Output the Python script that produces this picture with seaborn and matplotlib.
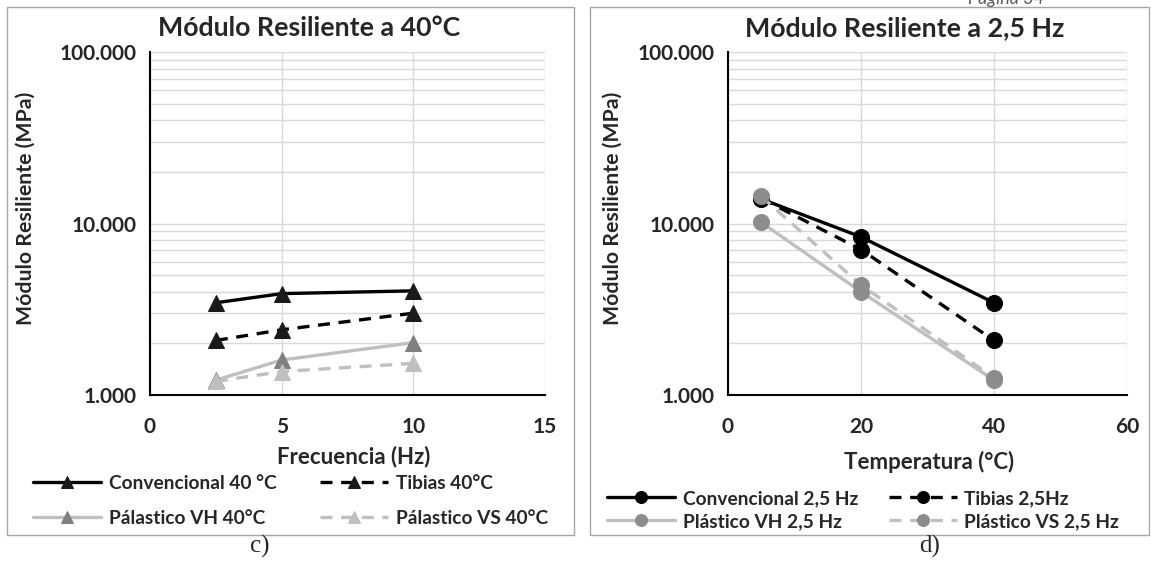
import matplotlib
matplotlib.use("Agg")
import matplotlib.pyplot as plt
import seaborn as sns
import pandas as pd
from matplotlib.patches import Rectangle
from matplotlib.ticker import FixedLocator, FuncFormatter, LogLocator, MultipleLocator, NullFormatter

# ---- data -------------------------------------------------------------
freq_hz = [2.5, 5, 10]
conv_40c = [3450, 3900, 4050]
tibias_40c = [2080, 2400, 3000]
plast_vh_40c = [1220, 1600, 2020]
plast_vs_40c = [1200, 1370, 1530]
labels_40c = ["Convencional 40 °C", "Tibias 40°C", "Pálastico VH 40°C", "Pálastico VS 40°C"]

temp_c = [5, 20, 40]
conv_25hz = [13900, 8350, 3450]
tibias_25hz = [14000, 7050, 2080]
plast_vh_25hz = [10150, 4000, 1220]
plast_vs_25hz = [14400, 4380, 1260]
labels_25hz = ["Convencional 2,5 Hz", "Tibias 2,5Hz", "Plástico VH 2,5 Hz", "Plástico VS 2,5 Hz"]

y_ticks = [1000, 10000, 100000]

# ---- style ------------------------------------------------------------
sns.set_style("white")
plt.rcParams["font.family"] = ["Lato", "DejaVu Sans"]
plt.rcParams["font.weight"] = "bold"

W, H = 1151, 574
fig = plt.figure(figsize=(W / 100, H / 100), dpi=100)


def fx(px):
    return px / W


def fy(py):
    return 1 - py / H


BLACK = "#000000"
LIGHT = "#bfbfbf"
MID = "#8c8c8c"
GRID = "#d9d9d9"
DASH = (0, (3.6, 2.6))

# panel frames
for x0, x1 in [(7, 574), (590, 1149)]:
    fig.patches.append(Rectangle((fx(x0), fy(535)), fx(x1 - x0), (535 - 7) / H,
                                 transform=fig.transFigure, fill=False,
                                 edgecolor="#a6a6a6", linewidth=1.0))

ax1 = fig.add_axes([fx(150), fy(395), fx(395), (395 - 52) / H])
ax2 = fig.add_axes([fx(728), fy(395), fx(399), (395 - 52) / H])


def thousands(v, _):
    return f"{int(round(v)):,}".replace(",", ".")


def style_axes(ax, xmax, xmajor, xminor):
    ax.set_yscale("log")
    ax.set_ylim(1000, 100000)
    ax.set_xlim(0, xmax)
    ax.yaxis.set_major_locator(FixedLocator(y_ticks))
    ax.yaxis.set_major_formatter(FuncFormatter(thousands))
    ax.yaxis.set_minor_locator(LogLocator(base=10, subs=range(2, 10)))
    ax.yaxis.set_minor_formatter(NullFormatter())
    ax.xaxis.set_major_locator(MultipleLocator(xmajor))
    ax.xaxis.set_minor_locator(MultipleLocator(xminor))
    ax.grid(True, which="major", axis="x", color=GRID, linewidth=1.0)
    ax.grid(True, which="both", axis="y", color=GRID, linewidth=1.0)
    ax.set_axisbelow(True)
    for s in ["top", "right"]:
        ax.spines[s].set_visible(False)
    for s in ["left", "bottom"]:
        ax.spines[s].set_color(BLACK)
        ax.spines[s].set_linewidth(1.5)
    ax.tick_params(which="major", direction="inout", length=10, width=1.5, color=BLACK,
                   labelsize=15, pad=5)
    ax.tick_params(which="minor", direction="out", length=4, width=1.2, color=BLACK)
    ax.tick_params(axis="x", which="major", pad=11)
    for t in ax.get_xticklabels() + ax.get_yticklabels():
        t.set_fontweight("bold")
    ax.set_xlabel("")
    ax.set_ylabel("")


def draw(ax, x, y, label, line_color, marker_color, ls, marker, ms):
    df = pd.DataFrame({"x": x, "y": y})
    sns.lineplot(data=df, x="x", y="y", ax=ax, color=line_color, linestyle=ls,
                 linewidth=2.4, marker=marker, markersize=ms,
                 markerfacecolor=marker_color, markeredgecolor=marker_color,
                 label=label, sort=False, estimator=None)


# ---- left panel: 40 °C ---------------------------------------------------
draw(ax1, freq_hz, conv_40c, labels_40c[0], BLACK, "#1a1a1a", "-", "^", 11)
draw(ax1, freq_hz, tibias_40c, labels_40c[1], BLACK, "#1a1a1a", DASH, "^", 11)
draw(ax1, freq_hz, plast_vh_40c, labels_40c[2], LIGHT, "#808080", "-", "^", 11)
draw(ax1, freq_hz, plast_vs_40c, labels_40c[3], LIGHT, LIGHT, DASH, "^", 11)
style_axes(ax1, 15, 5, 1)

# ---- right panel: 2,5 Hz -------------------------------------------------
draw(ax2, temp_c, conv_25hz, labels_25hz[0], BLACK, BLACK, "-", "o", 11.5)
draw(ax2, temp_c, tibias_25hz, labels_25hz[1], BLACK, BLACK, DASH, "o", 11.5)
draw(ax2, temp_c, plast_vh_25hz, labels_25hz[2], LIGHT, MID, "-", "o", 11.5)
draw(ax2, temp_c, plast_vs_25hz, labels_25hz[3], LIGHT, MID, DASH, "o", 11.5)
style_axes(ax2, 60, 20, 4)

# ---- titles, axis labels ----------------------------------------------
fig.text(fx(309), fy(28), "Módulo Resiliente a 40°C", ha="center", va="center",
         fontsize=19.3, fontweight="bold")
fig.text(fx(905), fy(28), "Módulo Resiliente a 2,5 Hz", ha="center", va="center",
         fontsize=19.3, fontweight="bold")
fig.text(fx(26), fy(208), "Módulo Resiliente (MPa)", rotation=90, ha="center", va="center",
         fontsize=15.3, fontweight="bold")
fig.text(fx(613), fy(208), "Módulo Resiliente (MPa)", rotation=90, ha="center", va="center",
         fontsize=15.3, fontweight="bold")
fig.text(fx(354), fy(457), "Frecuencia (Hz)", ha="center", va="center",
         fontsize=16, fontweight="bold")
fig.text(fx(929), fy(462), "Temperatura (°C)", ha="center", va="center",
         fontsize=16, fontweight="bold")

# ---- legends (two rows, filled across) ---------------------------------------
leg_kw = dict(ncol=2, frameon=False, borderpad=0, borderaxespad=0, numpoints=1,
              handlelength=3.55, handletextpad=0.4, markerscale=0.75,
              prop={"weight": "bold", "size": 13.8}, bbox_transform=fig.transFigure,
              loc="upper left")
order = [0, 2, 1, 3]
h1, l1 = ax1.get_legend_handles_labels()
ax1.legend([h1[i] for i in order], [l1[i] for i in order],
           bbox_to_anchor=(fx(33), fy(475)), labelspacing=0.95, columnspacing=2.3, **leg_kw)
h2, l2 = ax2.get_legend_handles_labels()
ax2.legend([h2[i] for i in order], [l2[i] for i in order],
           bbox_to_anchor=(fx(607), fy(490)), labelspacing=0.3, columnspacing=1.6, **leg_kw)

# ---- captions and page header ------------------------------------------------
fig.text(fx(260), fy(546), "c)", ha="center", va="center", fontsize=18,
         fontweight="normal", family="Liberation Serif")
fig.text(fx(930), fy(546), "d)", ha="center", va="center", fontsize=18,
         fontweight="normal", family="Liberation Serif")
fig.text(fx(968), fy(4), "Página 34", ha="left", va="baseline", fontsize=13,
         fontweight="normal", style="italic", color="#595959")

fig.savefig("out.png", dpi=100)
